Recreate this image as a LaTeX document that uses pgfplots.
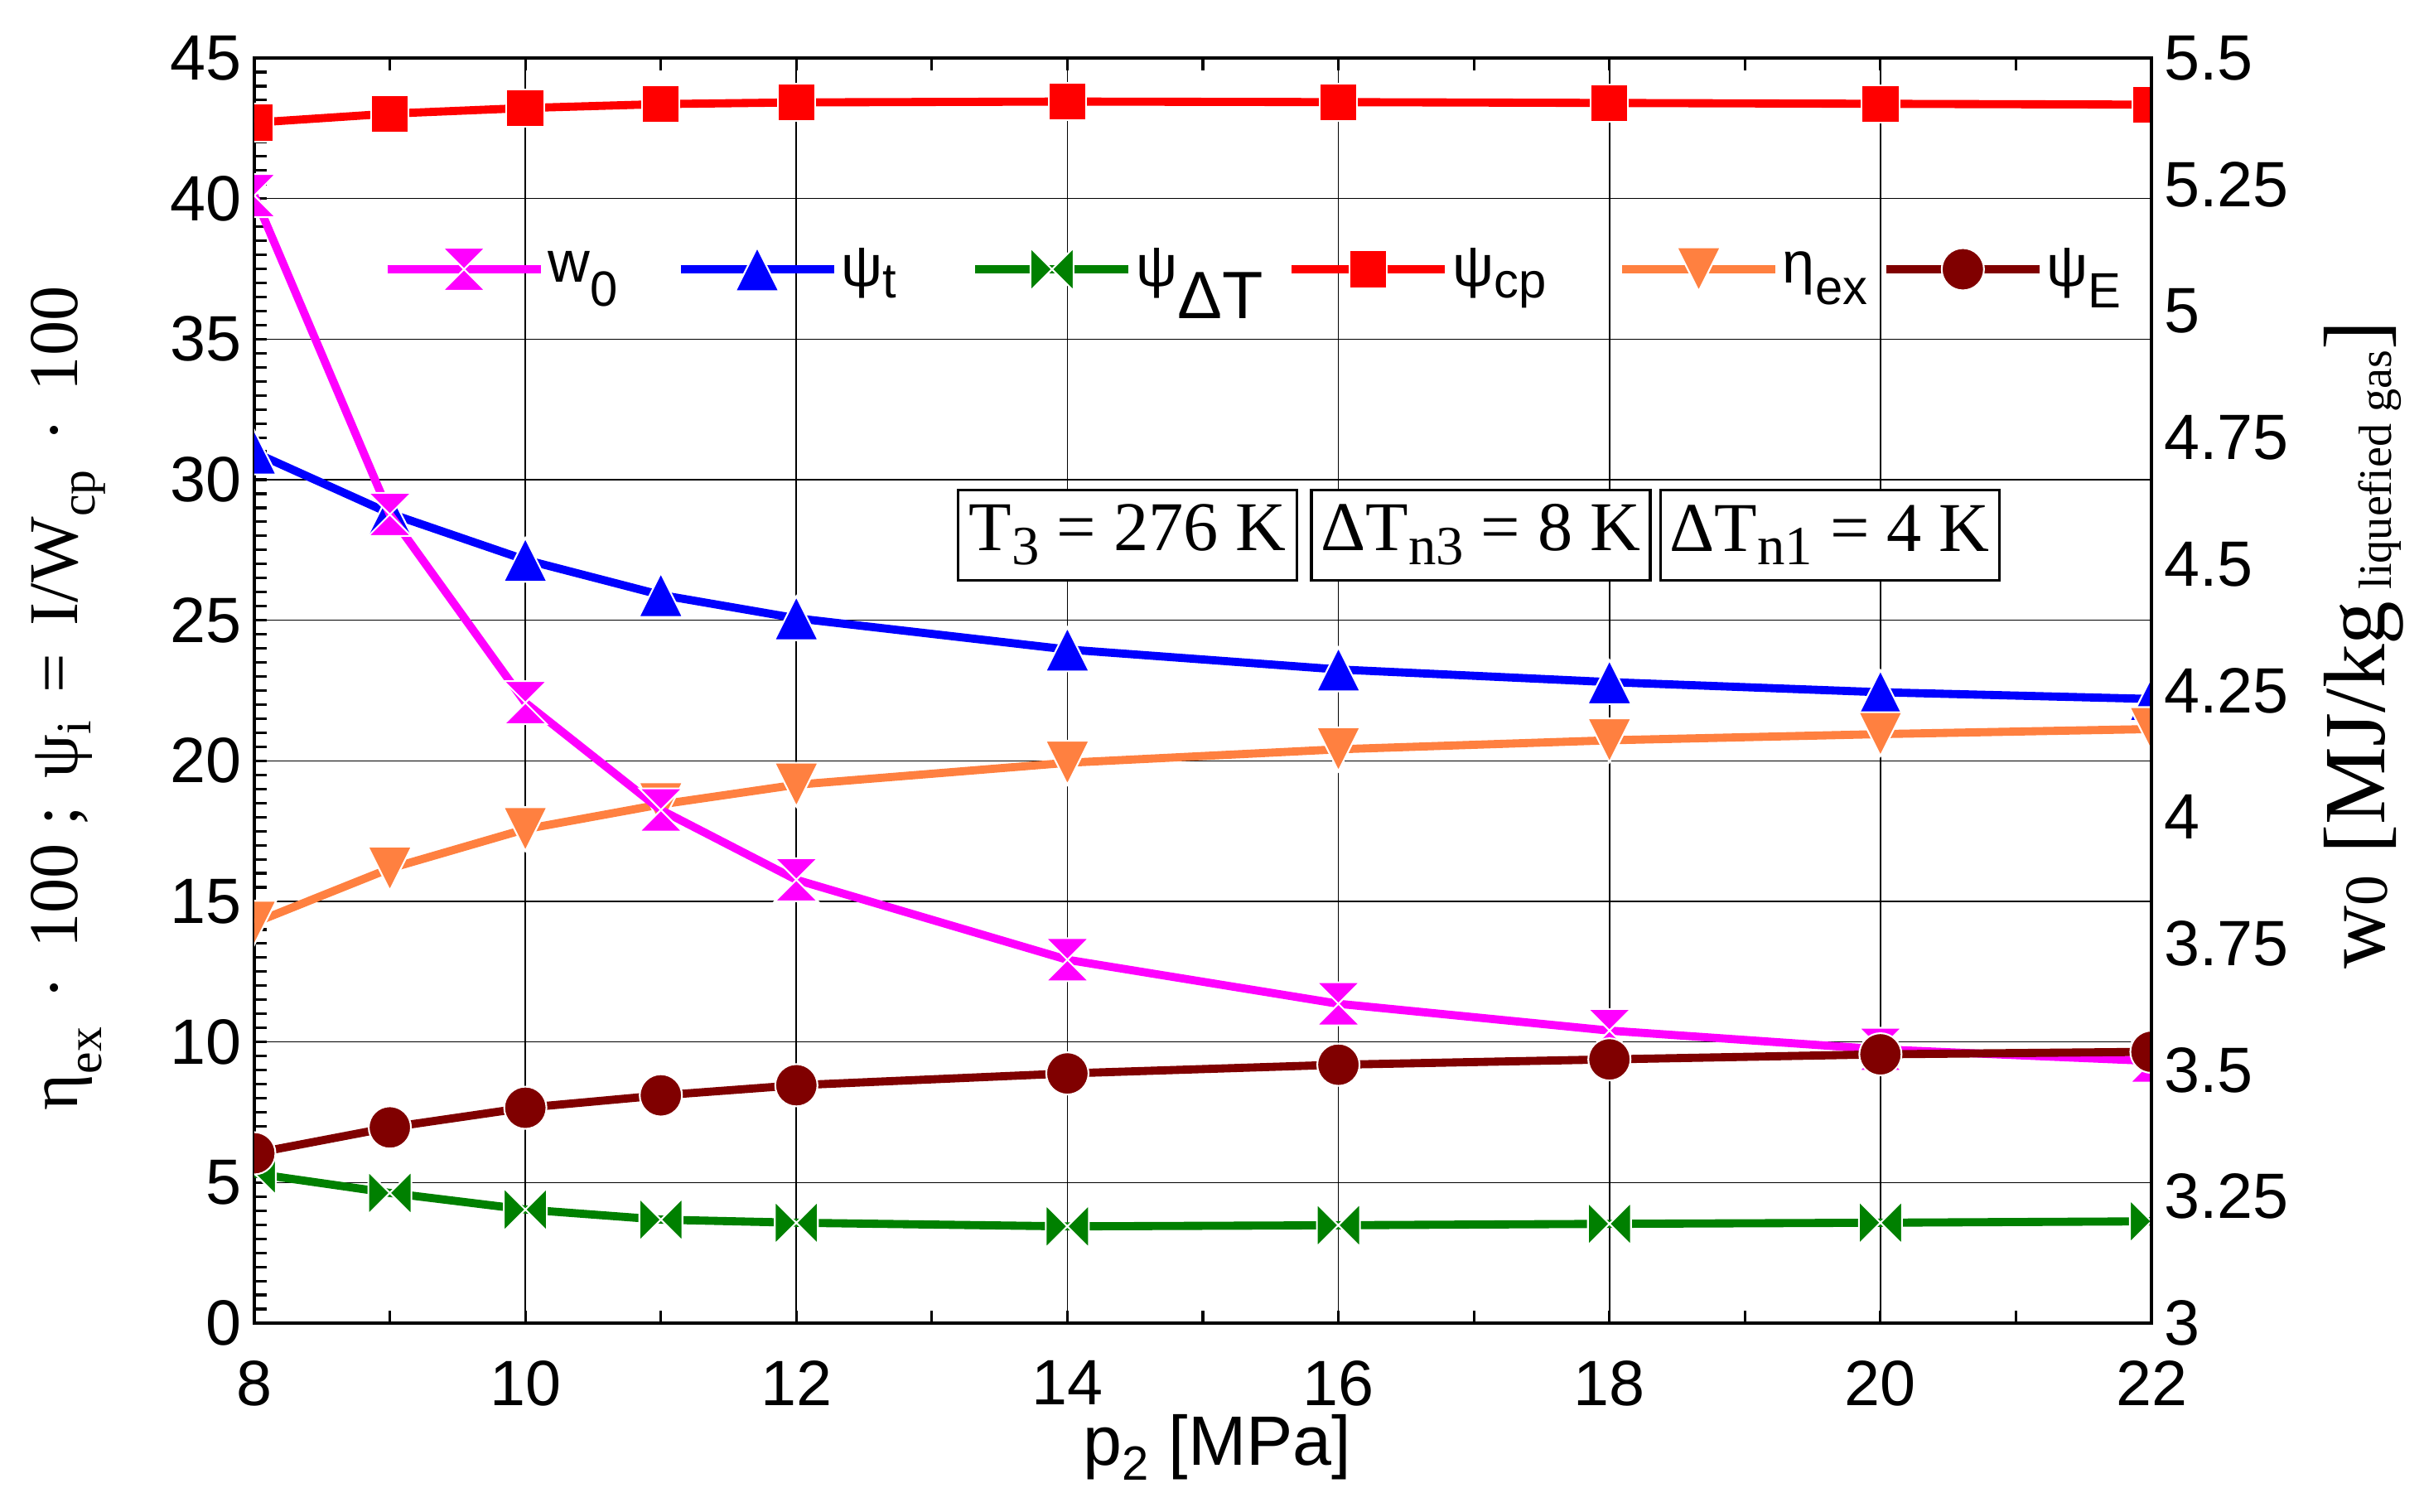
\documentclass[border=0pt]{standalone}
\usepackage{fontspec}
\setmainfont{Liberation Serif}
\newfontfamily\arial{Liberation Sans}
\usepackage{pgfplots}
\pgfplotsset{compat=1.18}

\definecolor{cmag}{RGB}{255,0,255}
\definecolor{cblue}{RGB}{0,0,255}
\definecolor{cgreen}{RGB}{0,128,0}
\definecolor{cred}{RGB}{255,0,0}
\definecolor{corange}{RGB}{255,128,64}
\definecolor{cdred}{RGB}{128,0,0}

\newcommand{\lsub}[3]{\raisebox{-#2}{\fontsize{#1}{#1}\selectfont #3}}

\pgfdeclareplotmark{hourglass}{%
  \pgfpathmoveto{\pgfqpoint{-\pgfplotmarksize}{\pgfplotmarksize}}%
  \pgfpathlineto{\pgfqpoint{\pgfplotmarksize}{\pgfplotmarksize}}%
  \pgfpathlineto{\pgfqpoint{-\pgfplotmarksize}{-\pgfplotmarksize}}%
  \pgfpathlineto{\pgfqpoint{\pgfplotmarksize}{-\pgfplotmarksize}}%
  \pgfpathclose\pgfusepathqfillstroke}
\pgfdeclareplotmark{bowtie}{%
  \pgfpathmoveto{\pgfqpoint{-\pgfplotmarksize}{\pgfplotmarksize}}%
  \pgfpathlineto{\pgfqpoint{-\pgfplotmarksize}{-\pgfplotmarksize}}%
  \pgfpathlineto{\pgfqpoint{\pgfplotmarksize}{\pgfplotmarksize}}%
  \pgfpathlineto{\pgfqpoint{\pgfplotmarksize}{-\pgfplotmarksize}}%
  \pgfpathclose\pgfusepathqfillstroke}
\pgfdeclareplotmark{tup}{%
  \pgfpathmoveto{\pgfqpoint{0pt}{\pgfplotmarksize}}%
  \pgfpathlineto{\pgfqpoint{-\pgfplotmarksize}{-\pgfplotmarksize}}%
  \pgfpathlineto{\pgfqpoint{\pgfplotmarksize}{-\pgfplotmarksize}}%
  \pgfpathclose\pgfusepathqfillstroke}
\pgfdeclareplotmark{tdown}{%
  \pgfpathmoveto{\pgfqpoint{0pt}{-\pgfplotmarksize}}%
  \pgfpathlineto{\pgfqpoint{-\pgfplotmarksize}{\pgfplotmarksize}}%
  \pgfpathlineto{\pgfqpoint{\pgfplotmarksize}{\pgfplotmarksize}}%
  \pgfpathclose\pgfusepathqfillstroke}

\pgfplotsset{
  sW/.style={color=cmag, line width=2.8pt, mark=hourglass, mark size=2.6mm,
    mark options={draw=white, fill=cmag, line width=0.6pt}},
  sT/.style={color=cblue, line width=2.8pt, mark=tup, mark size=2.65mm,
    mark options={draw=white, fill=cblue, line width=0.6pt}},
  sD/.style={color=cgreen, line width=2.8pt, mark=bowtie, mark size=2.6mm,
    mark options={draw=white, fill=cgreen, line width=0.6pt}},
  sC/.style={color=cred, line width=2.8pt, mark=square*, mark size=2.27mm,
    mark options={draw=white, fill=cred, line width=0.6pt}},
  sX/.style={color=corange, line width=2.8pt, mark=tdown, mark size=2.65mm,
    mark options={draw=white, fill=corange, line width=0.6pt}},
  sE/.style={color=cdred, line width=2.8pt, mark=*, mark size=2.55mm,
    mark options={draw=white, fill=cdred, line width=0.6pt}},
}

\pgfplotstableread{
x  psicp  psit   psidt  etaex  psie  wzero
8  42.70  30.97  5.32   14.24  6.04  5.228
9  43.02  28.80  4.63   16.17  6.96  4.598
10 43.22  27.15  4.04   17.57  7.66  4.226
11 43.36  25.90  3.68   18.45  8.10  4.014
12 43.42  25.07  3.57   19.15  8.46  3.876
14 43.45  23.96  3.44   19.93  8.88  3.718
16 43.43  23.25  3.48   20.41  9.19  3.631
18 43.40  22.80  3.53   20.73  9.38  3.578
20 43.37  22.44  3.57   20.95  9.56  3.541
22 43.34  22.20  3.62   21.13  9.65  3.518
}\datatable

\begin{document}
\begin{tikzpicture}
\begin{axis}[
  at={(30.7mm,22.8mm)}, anchor=south west, scale only axis,
  width=229mm, height=152.7mm,
  xmin=8, xmax=22, ymin=0, ymax=45,
  xtick={8,10,12,14,16,18,20,22}, ytick={0,5,...,45},
  minor x tick num=1, minor y tick num=9,
  ytick pos=left,
  tick align=inside,
  major tick length=1.5mm, minor tick length=1.5mm,
  tick style={black, line width=0.9pt},
  grid=major, major grid style={black, line width=0.45pt},
  axis line style={black, line width=1pt},
  clip marker paths=true,
  tick label style={font=\arial\fontsize{22}{24}\selectfont, inner sep=1pt, /pgf/number format/assume math mode=true},
  xticklabel style={yshift=-4.1mm},
  yticklabel style={xshift=-1.1mm},
  xlabel={p\lsub{16.5pt}{0.22em}{2} [MPa]},
  every axis x label/.style={at={(rel axis cs:0.5076,-0.112)}, anchor=base, font=\arial\fontsize{24}{26}\selectfont},
  ylabel={η\lsub{17pt}{0.35em}{ex}\hspace{0.4em}·\hspace{0.4em}100\hspace{0.25em};\hspace{0.4em}ψ\lsub{17pt}{0.2em}{i}\hspace{0.4em}=\hspace{0.4em}I/W\lsub{17pt}{0.25em}{cp}\hspace{0.4em}·\hspace{0.4em}100},
  every axis y label/.style={at={(rel axis cs:-0.0934,0.4938)}, rotate=90, anchor=base, font=\fontsize{24}{26}\selectfont},
  legend columns=6,
  legend image code/.code={\draw[mark repeat=2, mark phase=2, #1] plot coordinates {(0mm,0mm) (9.25mm,0mm) (18.5mm,0mm)};},
  legend style={at={(rel axis cs:0.0677,0.833)}, anchor=west, draw=none, fill=none, inner sep=0pt,
    font=\arial\fontsize{20}{22}\selectfont, nodes={fill=white, inner sep=0pt},
    /tikz/every odd column/.append style={column sep=0.4mm},
    /tikz/every even column/.append style={column sep=1.5mm}},
]
\addlegendimage{sW}\addlegendentry{\makebox[14.0mm][l]{w\lsub{17pt}{0.4em}{0}}}
\addlegendimage{sT}\addlegendentry{\makebox[14.2mm][l]{ψ\lsub{17pt}{0.2em}{t}}}
\addlegendimage{sD}\addlegendentry{\makebox[16.8mm][l]{ψ\lsub{23pt}{0.55em}{ΔT}}}
\addlegendimage{sC}\addlegendentry{\makebox[18.5mm][l]{ψ\lsub{17pt}{0.2em}{cp}}}
\addlegendimage{sX}\addlegendentry{\makebox[10.5mm][l]{η\lsub{17pt}{0.37em}{ex}}}
\addlegendimage{sE}\addlegendentry{ψ\lsub{17pt}{0.37em}{E}}

\addplot[sC, forget plot] table[x=x, y=psicp] {\datatable};
\addplot[sT, forget plot] table[x=x, y=psit] {\datatable};
\addplot[sD, forget plot] table[x=x, y=psidt] {\datatable};
\addplot[sX, forget plot] table[x=x, y=etaex] {\datatable};
\addplot[sW, forget plot, y filter/.expression={(y-3)*18}] table[x=x, y=wzero] {\datatable};
\addplot[sE, forget plot] table[x=x, y=psie] {\datatable};

\node[draw=black, line width=0.9pt, fill=white, minimum width=40.9mm, minimum height=10.9mm, inner sep=0pt, font=\fontsize{24}{26}\selectfont]
  at (rel axis cs:0.4603,0.623) {T\lsub{19pt}{0.2em}{3} = 276 K};
\node[draw=black, line width=0.9pt, fill=white, minimum width=40.9mm, minimum height=10.9mm, inner sep=0pt, font=\fontsize{24}{26}\selectfont]
  at (rel axis cs:0.6465,0.623) {ΔT\lsub{19pt}{0.2em}{n3} = 8 K};
\node[draw=black, line width=0.9pt, fill=white, minimum width=40.9mm, minimum height=10.9mm, inner sep=0pt, font=\fontsize{24}{26}\selectfont]
  at (rel axis cs:0.8304,0.623) {ΔT\lsub{19pt}{0.2em}{n1} = 4 K};
\end{axis}

\begin{axis}[
  at={(30.7mm,22.8mm)}, anchor=south west, scale only axis,
  width=229mm, height=152.7mm,
  xmin=8, xmax=22, ymin=3, ymax=5.5,
  axis x line=none, axis y line*=right,
  ytick={3,3.25,3.5,3.75,4,4.25,4.5,4.75,5,5.25,5.5},
  major tick length=0pt,
  axis line style={black, line width=1pt},
  tick label style={font=\arial\fontsize{22}{24}\selectfont, inner sep=1pt, /pgf/number format/assume math mode=true},
  yticklabel style={xshift=1.1mm},
  ylabel={w\lsub{21pt}{0.03em}{0} [MJ/kg\lsub{16pt}{0.08em}{ liquefied gas}]},
  every axis y label/.style={at={(rel axis cs:1.1227,0.536)}, rotate=90, anchor=base, font=\fontsize{30}{32}\selectfont},
]
\addplot[draw=none, forget plot] coordinates {(8,3)};
\end{axis}
\pgfresetboundingbox
\useasboundingbox (0,0) rectangle (292.6mm,182.5mm);
\end{tikzpicture}
\end{document}
